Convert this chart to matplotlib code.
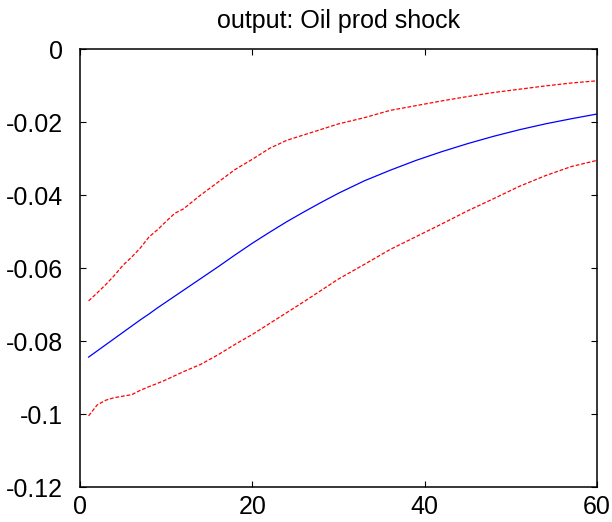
import matplotlib
matplotlib.use("Agg")
import matplotlib.pyplot as plt

# horizon (periods)
x = [1, 2, 3, 4, 5, 6, 7, 8, 9, 10, 11, 12, 14, 16, 18, 20, 22, 24, 26, 28,
     30, 33, 36, 39, 42, 45, 48, 51, 54, 57, 60]

# median response
resp = [-0.0844, -0.0827, -0.0810, -0.0793, -0.0776, -0.0759, -0.0742, -0.0726,
        -0.0709, -0.0693, -0.0677, -0.0661, -0.0629, -0.0597, -0.0564, -0.0532,
        -0.0502, -0.0473, -0.0446, -0.0420, -0.0395, -0.0361, -0.0332, -0.0305,
        -0.0281, -0.0259, -0.0239, -0.0221, -0.0205, -0.0191, -0.0178]

# upper band
upper = [-0.0690, -0.0668, -0.0645, -0.0620, -0.0592, -0.0570, -0.0545, -0.0515,
         -0.0495, -0.0472, -0.0450, -0.0438, -0.0400, -0.0365, -0.0330, -0.0302,
         -0.0272, -0.0250, -0.0235, -0.0220, -0.0205, -0.0188, -0.0168, -0.0155,
         -0.0142, -0.0130, -0.0119, -0.0110, -0.0101, -0.0093, -0.0087]

# lower band
lower = [-0.1005, -0.0975, -0.0962, -0.0955, -0.0951, -0.0947, -0.0935, -0.0925,
         -0.0916, -0.0906, -0.0895, -0.0884, -0.0864, -0.0838, -0.0809, -0.0782,
         -0.0752, -0.0722, -0.0692, -0.0661, -0.0630, -0.0590, -0.0549, -0.0514,
         -0.0479, -0.0443, -0.0410, -0.0376, -0.0347, -0.0322, -0.0305]

xticks = [0, 20, 40, 60]
yticks = [-0.12, -0.1, -0.08, -0.06, -0.04, -0.02, 0]
ylabels = ["-0.12", "-0.1", "-0.08", "-0.06", "-0.04", "-0.02", "0"]

plt.rcParams['font.family'] = ['Liberation Sans', 'DejaVu Sans']

fig = plt.figure(figsize=(6.12, 5.22), dpi=100)
ax = fig.add_axes([0.1307, 0.067, 0.8448, 0.839])

ax.plot(x, resp, color='blue', lw=0.9)
ax.plot(x, upper, color='red', lw=0.9, linestyle=(0, (3, 1.5)))
ax.plot(x, lower, color='red', lw=0.9, linestyle=(0, (3, 1.5)))

ax.set_xlim(0, 60)
ax.set_ylim(-0.12, 0)
ax.set_xticks(xticks)
ax.set_yticks(yticks)
ax.set_yticklabels(ylabels)
ax.tick_params(direction='in', length=4, width=0.8, labelsize=18,
               top=True, right=True)
ax.tick_params(axis='y', pad=12)
ax.tick_params(axis='x', pad=6)
for s in ax.spines.values():
    s.set_linewidth(1.1)

ax.set_title("output: Oil prod shock", fontsize=18, pad=15)

fig.savefig("out.png", dpi=100)
